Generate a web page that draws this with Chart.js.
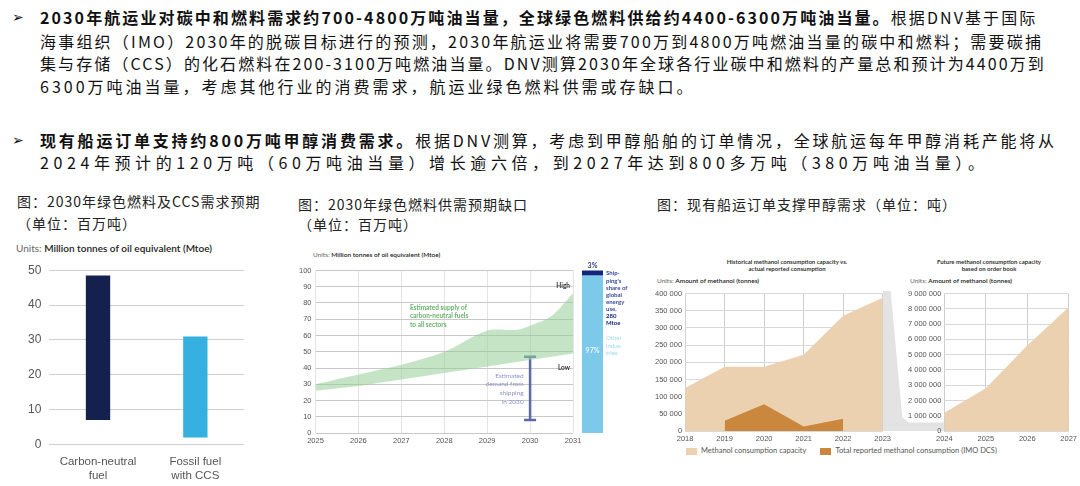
<!DOCTYPE html>
<html><head><meta charset="utf-8">
<script src="https://cdn.jsdelivr.net/npm/chart.js@4"></script>
<style>
body{margin:0;width:1080px;height:486px;background:#fff;position:relative;overflow:hidden;font-family:"Noto Sans CJK SC",sans-serif;color:#111}
.t{position:absolute;left:40px;font-size:16px;white-space:nowrap;line-height:22px;letter-spacing:2.5px}
.b{position:absolute;left:12px;font-size:14px}
.cap{position:absolute;font-size:14px;white-space:nowrap;color:#222;letter-spacing:1px}
.u{position:absolute;font-family:Lato,sans-serif;font-size:10px;color:#666;white-space:nowrap}
.u b{color:#222;font-weight:600}
canvas{position:absolute}
.leg{position:absolute;top:446px;left:686px;font-family:Lato,sans-serif;font-size:7.5px;color:#555;white-space:nowrap}
.sw{display:inline-block;width:11px;height:7px;vertical-align:middle;margin-right:4px}
</style></head><body>
<div class="b" style="top:6px">➢</div>
<div class="t" style="top:6px;letter-spacing:2.1px"><b>2030年航运业对碳中和燃料需求约700-4800万吨油当量，全球绿色燃料供给约4400-6300万吨油当量。</b>根据DNV基于国际</div>
<div class="t" style="top:30px;letter-spacing:2.2px">海事组织（IMO）2030年的脱碳目标进行的预测，2030年航运业将需要700万到4800万吨燃油当量的碳中和燃料；需要碳捕</div>
<div class="t" style="top:52px;letter-spacing:2.1px">集与存储（CCS）的化石燃料在200-3100万吨燃油当量。DNV测算2030年全球各行业碳中和燃料的产量总和预计为4400万到</div>
<div class="t" style="top:75px;letter-spacing:3px">6300万吨油当量，考虑其他行业的消费需求，航运业绿色燃料供需或存缺口。</div>
<div class="b" style="top:129px">➢</div>
<div class="t" style="top:129px;letter-spacing:2.8px"><b>现有船运订单支持约800万吨甲醇消费需求。</b>根据DNV测算，考虑到甲醇船舶的订单情况，全球航运每年甲醇消耗产能将从</div>
<div class="t" style="top:151px;letter-spacing:4.6px">2024年预计的120万吨（60万吨油当量）增长逾六倍，到2027年达到800多万吨（380万吨油当量）。</div>

<div class="cap" style="left:17px;top:191px">图：2030年绿色燃料及CCS需求预期</div>
<div class="cap" style="left:17px;top:213px">（单位：百万吨）</div>
<div class="cap" style="left:298px;top:194px">图：2030年绿色燃料供需预期缺口</div>
<div class="cap" style="left:298px;top:214px">（单位：百万吨）</div>
<div class="cap" style="left:657px;top:194px">图：现有船运订单支撑甲醇需求（单位：吨）</div>

<div class="u" style="left:16px;top:242px">Units: <b>Million tonnes of oil equivalent (Mtoe)</b></div>
<div class="u" style="left:313px;top:251px;font-size:6.5px">Units: <b>Million tonnes of oil equivalent (Mtoe)</b></div>
<div class="u" style="left:707px;top:258px;font-size:6px;font-weight:700;color:#333;text-align:center;width:160px">Historical methanol consumption capacity vs.<br>actual reported consumption</div>
<div class="u" style="left:914px;top:258px;font-size:6px;font-weight:700;color:#333;text-align:center;width:150px">Future methanol consumption capacity<br>based on order book</div>
<div class="u" style="left:657px;top:277px;font-size:6.5px">Units: <b>Amount of methanol (tonnes)</b></div>
<div class="u" style="left:910px;top:277px;font-size:6.5px">Units: <b>Amount of methanol (tonnes)</b></div>

<canvas id="c1" style="left:0;top:255px;width:262px;height:231px"></canvas>
<canvas id="c2" style="left:283px;top:262px;width:360px;height:186px"></canvas>
<div id="gap" style="position:absolute;left:883px;top:291px;width:64px;height:140px;background:#e3e3e3;clip-path:polygon(0 0,12% 0,30% 90%,40% 94%,100% 94%,100% 100%,0 100%)"></div>
<canvas id="c3" style="left:652px;top:286px;width:242px;height:160px"></canvas>
<canvas id="c4" style="left:905px;top:286px;width:175px;height:160px"></canvas>
<div class="leg"><span class="sw" style="background:#ecd1b0"></span>Methanol consumption capacity<span class="sw" style="background:#c9883e;margin-left:14px"></span>Total reported methanol consumption (IMO DCS)</div>

<script>
// Chart 1: 2030 demand ranges (Mtoe)
const demandCats = [['Carbon-neutral', 'fuel'], ['Fossil fuel', 'with CCS']];
const demandLow = [7, 2];
const demandHigh = [48.5, 31];

// Chart 2: supply band (Mtoe)
const supplyLowX = [2025, 2026, 2027, 2028, 2029, 2030, 2031];
const supplyLow = [26, 29, 33, 37, 41, 45, 49];
const supplyHighX = [2025, 2026, 2027, 2028, 2029, 2029.7, 2030, 2030.5, 2031];
const supplyHigh = [30, 36, 42, 50, 63, 63.5, 66, 72, 86];
const shipDemand2030 = [8, 47];
const energyShare = [97, 3];

// Chart 3: methanol (tonnes)
const histYears = [2018, 2019, 2020, 2021, 2022, 2023];
const histCapacity = [125000, 187000, 187000, 222000, 335000, 388000];
const reportedYears = [2019, 2020, 2021, 2022];
const reported = [30000, 78000, 13000, 36000];
const futureYears = [2024, 2025, 2026, 2027];
const futureCapacity = [1200000, 2800000, 5600000, 8100000];

const fmt = v => String(v).replace(/\B(?=(\d{3})+(?!\d))/g, ' ');
const grid = { color: '#cfcfcf', drawTicks: false };

new Chart(document.getElementById('c1'), {
  type: 'bar',
  data: {
    labels: demandCats,
    datasets: [{
      data: demandLow.map((v, i) => [v, demandHigh[i]]),
      backgroundColor: ['#14204d', '#35b0e0'],
      barPercentage: 0.25, categoryPercentage: 1
    }]
  },
  options: {
    responsive: false, animation: false,
    layout: { padding: { left: 20, right: 18 } },
    plugins: { legend: { display: false }, tooltip: { enabled: false } },
    scales: {
      y: { min: 0, max: 50, ticks: { stepSize: 10, color: '#555', font: { size: 12 }, padding: 8 }, grid, border: { display: false } },
      x: { grid: { display: false }, border: { display: false }, ticks: { color: '#555', font: { size: 11.5 } } }
    }
  }
});

const bandLabels = {
  id: 'bandLabels',
  afterDraw(c) {
    const { ctx, scales: { x, y }, chartArea: a } = c;
    ctx.save();
    ctx.font = 'bold 6.5px Lato'; ctx.textAlign = 'right'; ctx.fillStyle = '#333';
    ctx.fillText('High', a.right - 3, y.getPixelForValue(89));
    ctx.fillText('Low', a.right - 3, y.getPixelForValue(39));
    ctx.textAlign = 'left'; ctx.fillStyle = '#6bb36b'; ctx.font = 'bold 6.5px Lato';
    ['Estimated supply of', 'carbon-neutral fuels', 'to all sectors'].forEach((t, i) =>
      ctx.fillText(t, x.getPixelForValue(2027.2), y.getPixelForValue(76 - i * 5.5)));
    ctx.textAlign = 'right'; ctx.fillStyle = '#8a93c7'; ctx.font = '6.5px Lato';
    ['Estimated', 'demand from', 'shipping', 'in 2030'].forEach((t, i) =>
      ctx.fillText(t, x.getPixelForValue(2029.85), y.getPixelForValue(34 - i * 5.3)));
    // stacked share bar
    const bx = a.right + 9, bw = 21;
    const y0 = y.getPixelForValue(0), y1 = y.getPixelForValue(energyShare[0]), y2 = y.getPixelForValue(100);
    ctx.fillStyle = '#7dc9ea'; ctx.fillRect(bx, y1, bw, y0 - y1);
    ctx.fillStyle = '#12277a'; ctx.fillRect(bx, y2, bw, y1 - y2);
    ctx.textAlign = 'center'; ctx.font = 'bold 7px Lato'; ctx.fillStyle = '#2a3a8a';
    ctx.fillText(energyShare[1] + '%', bx + bw / 2, y2 - 3);
    ctx.fillStyle = '#e8f6fc'; ctx.fillText(energyShare[0] + '%', bx + bw / 2, y.getPixelForValue(49));
    ctx.textAlign = 'left'; ctx.font = 'bold 6px Lato';
    const tx = bx + bw + 3;
    ["Ship-", "ping's", 'share of', 'global', 'energy', 'use,'].forEach((t, i) => {
      ctx.fillStyle = '#3a4a9a'; ctx.fillText(t, tx, y.getPixelForValue(97 - i * 4.4));
    });
    ctx.fillStyle = '#12277a'; ctx.fillText('280', tx, y.getPixelForValue(70.6)); ctx.fillText('Mtoe', tx, y.getPixelForValue(66.2));
    ctx.font = '6px Lato'; ctx.fillStyle = '#9fd6ef';
    ['Other', 'indus-', 'tries'].forEach((t, i) => ctx.fillText(t, tx, y.getPixelForValue(57 - i * 4.4)));
    ctx.restore();
  }
};

new Chart(document.getElementById('c2'), {
  type: 'line',
  data: {
    datasets: [
      { data: supplyLowX.map((v, i) => ({ x: v, y: supplyLow[i] })), borderWidth: 0, pointRadius: 0, fill: false },
      { data: supplyHighX.map((v, i) => ({ x: v, y: supplyHigh[i] })), borderWidth: 0, pointRadius: 0, tension: 0.3, fill: '-1', backgroundColor: 'rgba(150,205,150,0.55)' },
      { data: shipDemand2030.map(v => ({ x: 2030, y: v })), borderColor: '#5a6aa8', borderWidth: 2.5, pointStyle: 'line', pointRadius: 6, pointBorderWidth: 2.5, pointBorderColor: '#5a6aa8' }
    ]
  },
  options: {
    responsive: false, animation: false,
    layout: { padding: { right: 70, top: 4, left: 12 } },
    plugins: { legend: { display: false }, tooltip: { enabled: false } },
    scales: {
      x: { type: 'linear', min: 2025, max: 2031, ticks: { stepSize: 1, color: '#555', font: { size: 7.5 }, callback: v => v }, grid: { color: '#e4e4e4', drawTicks: false }, border: { display: false } },
      y: { min: 0, max: 100, ticks: { stepSize: 10, color: '#555', font: { size: 7.5 }, padding: 4 }, grid: { color: '#c8c8c8', drawTicks: false }, border: { display: false } }
    }
  },
  plugins: [bandLabels]
});

const areaOpts = (xmin, xmax, ymax, step) => ({
  responsive: false, animation: false,
  plugins: { legend: { display: false }, tooltip: { enabled: false } },
  scales: {
    x: { type: 'linear', min: xmin, max: xmax, ticks: { stepSize: 1, color: '#555', font: { size: 7.5 }, callback: v => v }, grid: { color: '#cfcfcf', drawTicks: false, borderDash: [1, 2] }, border: { display: false } },
    y: { min: 0, max: ymax, ticks: { stepSize: step, color: '#555', font: { size: 7.5 }, padding: 3, callback: fmt }, grid: { color: '#d8d8d8', drawTicks: false }, border: { display: false } }
  }
});

new Chart(document.getElementById('c3'), {
  type: 'line',
  data: {
    datasets: [
      { data: reportedYears.map((v, i) => ({ x: v, y: reported[i] })), fill: 'origin', backgroundColor: '#c9883e', borderWidth: 0, pointRadius: 0 },
      { data: histYears.map((v, i) => ({ x: v, y: histCapacity[i] })), fill: 'origin', backgroundColor: '#ecd1b0', borderWidth: 0, pointRadius: 0 }
    ]
  },
  options: areaOpts(2018, 2023, 400000, 50000)
});

new Chart(document.getElementById('c4'), {
  type: 'line',
  data: {
    datasets: [
      { data: futureYears.map((v, i) => ({ x: v, y: futureCapacity[i] })), fill: 'origin', backgroundColor: '#ecd1b0', borderWidth: 0, pointRadius: 0 }
    ]
  },
  options: areaOpts(2024, 2027, 9000000, 1000000)
});
</script>
</body></html>
